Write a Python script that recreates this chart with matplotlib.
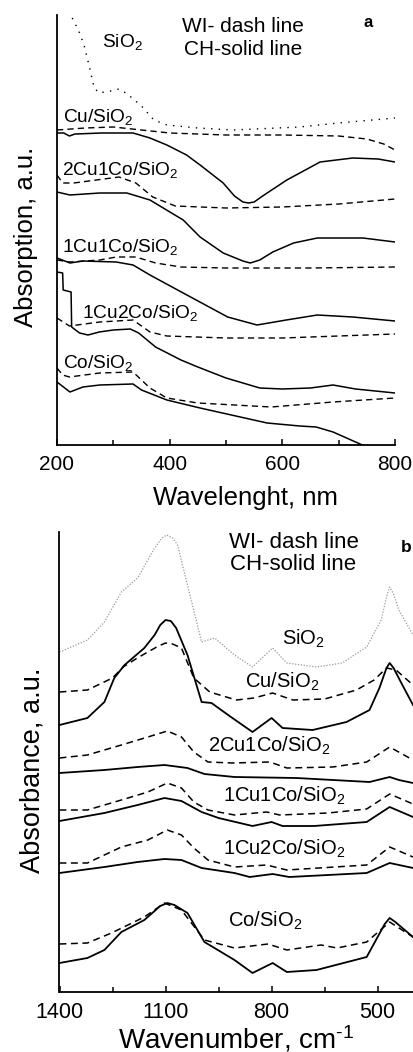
import matplotlib
matplotlib.use('Agg')
import matplotlib.pyplot as plt
from matplotlib.ticker import FixedLocator

plt.rcParams['font.family'] = ['Liberation Sans', 'DejaVu Sans']
plt.rcParams['mathtext.fontset'] = 'custom'
plt.rcParams['mathtext.rm'] = 'Liberation Sans'
plt.rcParams['mathtext.it'] = 'Liberation Sans:italic'
plt.rcParams['mathtext.bf'] = 'Liberation Sans:bold'
plt.rcParams['mathtext.default'] = 'regular'

# ---------------- Panel a : UV-vis (wavelength, nm ; absorption, a.u.) ----------------
uv_sio2_nm = [227, 238, 248, 258, 266, 275, 295, 310, 325, 350, 372, 395, 450, 512, 631, 700, 800]
uv_sio2 = [4.27, 4.15, 4.00, 3.77, 3.57, 3.52, 3.54, 3.56, 3.51, 3.39, 3.25, 3.20, 3.17, 3.15, 3.18, 3.22, 3.27]

uv_cu_wi_nm = [200, 250, 300, 350, 400, 500, 600, 700, 750, 780, 800]
uv_cu_wi = [3.15, 3.17, 3.18, 3.15, 3.12, 3.10, 3.10, 3.09, 3.06, 3.01, 2.95]
uv_cu_ch_nm = [200, 212, 222, 232, 280, 335, 365, 395, 430, 454, 495, 515, 530, 540, 550, 565, 608, 667, 725, 770, 800]
uv_cu_ch = [3.12, 3.12, 3.09, 3.11, 3.12, 3.12, 3.07, 3.00, 2.90, 2.80, 2.62, 2.49, 2.43, 2.42, 2.43, 2.49, 2.65, 2.83, 2.87, 2.86, 2.83]

uv_2cu1co_wi_nm = [200, 210, 230, 270, 310, 340, 370, 410, 500, 600, 700, 800]
uv_2cu1co_wi = [2.70, 2.62, 2.62, 2.65, 2.68, 2.62, 2.48, 2.39, 2.37, 2.38, 2.41, 2.46]
uv_2cu1co_ch_nm = [200, 223, 276, 324, 365, 424, 454, 495, 530, 543, 560, 583, 620, 662, 743, 800]
uv_2cu1co_ch = [2.53, 2.50, 2.52, 2.52, 2.45, 2.25, 2.08, 1.92, 1.84, 1.82, 1.85, 1.93, 2.02, 2.07, 2.07, 2.03]

uv_1cu1co_wi_nm = [200, 223, 276, 305, 340, 375, 420, 500, 650, 800]
uv_1cu1co_wi = [1.85, 1.83, 1.85, 1.88, 1.88, 1.82, 1.78, 1.77, 1.77, 1.78]
uv_1cu1co_ch_nm = [200, 223, 246, 305, 335, 365, 424, 503, 555, 607, 662, 725, 800]
uv_1cu1co_ch = [1.87, 1.82, 1.84, 1.83, 1.80, 1.70, 1.52, 1.28, 1.20, 1.25, 1.30, 1.28, 1.24]

uv_1cu2co_wi_nm = [200, 222, 276, 335, 365, 395, 500, 600, 700, 800]
uv_1cu2co_wi = [1.27, 1.19, 1.23, 1.25, 1.13, 1.09, 1.07, 1.07, 1.09, 1.11]
uv_1cu2co_ch_nm = [200, 210, 211, 225, 226, 240, 255, 275, 300, 330, 345, 375, 420, 450, 500, 560, 600, 650, 690, 730, 800]
uv_1cu2co_ch = [1.73, 1.72, 1.55, 1.53, 1.18, 1.12, 1.10, 1.13, 1.15, 1.16, 1.12, 0.98, 0.85, 0.78, 0.67, 0.57, 0.56, 0.57, 0.60, 0.56, 0.52]

uv_co_wi_nm = [200, 210, 222, 276, 335, 350, 365, 395, 450, 580, 690, 800]
uv_co_wi = [0.77, 0.70, 0.68, 0.72, 0.73, 0.65, 0.57, 0.47, 0.42, 0.38, 0.43, 0.47]
uv_co_ch_nm = [200, 223, 246, 276, 335, 350, 395, 454, 573, 631, 660, 690, 742, 800]
uv_co_ch = [0.63, 0.53, 0.58, 0.60, 0.61, 0.55, 0.45, 0.37, 0.22, 0.19, 0.18, 0.13, 0.00, -0.17]

uv_ticks = [200, 400, 600, 800]
uv_minor = [300, 500, 700]

# ---------------- Panel b : IR (wavenumber, cm-1 ; absorbance, a.u.) ----------------
ir_sio2_wn = [1400, 1321, 1273, 1225, 1179, 1131, 1110, 1097, 1080, 1066, 1038, 998, 961, 905, 854, 797, 757, 673, 600, 531, 490, 475, 466, 455, 440, 400]
ir_sio2 = [3.40, 3.52, 3.70, 4.00, 4.14, 4.44, 4.54, 4.57, 4.54, 4.47, 4.07, 3.50, 3.54, 3.37, 3.25, 3.44, 3.29, 3.25, 3.29, 3.45, 3.72, 3.95, 4.05, 3.98, 3.82, 3.57]

ir_cu_wi_wn = [1400, 1321, 1250, 1220, 1180, 1120, 1100, 1080, 1055, 1020, 975, 900, 850, 797, 740, 650, 560, 510, 475, 448, 400]
ir_cu_wi = [3.00, 3.02, 3.14, 3.25, 3.34, 3.46, 3.49, 3.48, 3.44, 3.14, 3.00, 2.92, 2.94, 2.99, 2.92, 2.93, 3.02, 3.12, 3.24, 3.22, 3.07]
ir_cu_ch_wn = [1400, 1321, 1273, 1245, 1216, 1160, 1131, 1115, 1100, 1085, 1070, 1038, 998, 970, 919, 854, 800, 769, 684, 588, 523, 495, 475, 466, 455, 430, 400]
ir_cu_ch = [2.67, 2.74, 2.90, 3.14, 3.27, 3.44, 3.57, 3.67, 3.72, 3.71, 3.64, 3.37, 2.90, 2.89, 2.76, 2.60, 2.74, 2.64, 2.62, 2.70, 2.82, 3.04, 3.24, 3.29, 3.24, 3.07, 2.87]

ir_2cu1co_wi_wn = [1400, 1321, 1225, 1150, 1095, 1055, 1020, 980, 910, 805, 757, 627, 531, 466, 400]
ir_2cu1co_wi = [2.34, 2.37, 2.47, 2.55, 2.61, 2.55, 2.40, 2.30, 2.29, 2.30, 2.24, 2.25, 2.30, 2.45, 2.32]
ir_2cu1co_ch_wn = [1400, 1273, 1179, 1103, 1038, 990, 905, 730, 523, 466, 440, 400]
ir_2cu1co_ch = [2.19, 2.22, 2.25, 2.27, 2.24, 2.18, 2.15, 2.14, 2.10, 2.15, 2.12, 2.09]

ir_1cu1co_wi_wn = [1400, 1321, 1225, 1150, 1095, 1055, 1020, 980, 905, 814, 777, 640, 531, 466, 400]
ir_1cu1co_wi = [1.82, 1.82, 1.92, 2.00, 2.09, 2.04, 1.90, 1.82, 1.77, 1.80, 1.77, 1.79, 1.83, 1.98, 1.88]
ir_1cu1co_ch_wn = [1400, 1273, 1179, 1103, 1055, 998, 950, 854, 800, 769, 680, 531, 466, 400]
ir_1cu1co_ch = [1.71, 1.79, 1.87, 1.94, 1.91, 1.80, 1.74, 1.66, 1.70, 1.66, 1.66, 1.70, 1.85, 1.75]

ir_1cu2co_wi_wn = [1400, 1321, 1225, 1150, 1095, 1055, 1020, 980, 905, 814, 757, 531, 466, 400]
ir_1cu2co_wi = [1.29, 1.29, 1.45, 1.52, 1.62, 1.57, 1.44, 1.32, 1.25, 1.27, 1.22, 1.27, 1.45, 1.35]
ir_1cu2co_ch_wn = [1400, 1273, 1179, 1103, 1055, 998, 905, 862, 797, 750, 531, 466, 400]
ir_1cu2co_ch = [1.19, 1.25, 1.30, 1.33, 1.32, 1.24, 1.19, 1.15, 1.18, 1.15, 1.19, 1.29, 1.24]

ir_co_wi_wn = [1400, 1321, 1253, 1160, 1103, 1055, 990, 905, 810, 757, 660, 615, 531, 466, 400]
ir_co_wi = [0.48, 0.49, 0.59, 0.75, 0.89, 0.82, 0.52, 0.44, 0.48, 0.42, 0.47, 0.44, 0.50, 0.70, 0.55]
ir_co_ch_wn = [1400, 1321, 1273, 1225, 1160, 1115, 1095, 1075, 1038, 990, 905, 854, 797, 757, 673, 531, 480, 466, 450, 400]
ir_co_ch = [0.29, 0.34, 0.42, 0.60, 0.72, 0.86, 0.89, 0.87, 0.79, 0.50, 0.32, 0.19, 0.29, 0.20, 0.22, 0.35, 0.68, 0.74, 0.70, 0.55]

ir_ticks = [1400, 1100, 800, 500]
ir_minor = [1250, 950, 650]

# ---------------- Figure ----------------
W, H = 414, 1052
fig = plt.figure(figsize=(W / 100, H / 100), dpi=100)

def ax_rect(l, t, r, b):
    return [l / W, 1 - b / H, (r - l) / W, (b - t) / H]

axa = fig.add_axes(ax_rect(57, 15, 395, 445))
axb = fig.add_axes(ax_rect(59.5, 532, 413, 992))

DASH = (0, (4.5, 3.0))

# panel a
axa.plot(uv_sio2_nm, uv_sio2, color='black', lw=1.0, ls=(0, (1, 4.5)))
for xw, yw, xc, yc in [
    (uv_cu_wi_nm, uv_cu_wi, uv_cu_ch_nm, uv_cu_ch),
    (uv_2cu1co_wi_nm, uv_2cu1co_wi, uv_2cu1co_ch_nm, uv_2cu1co_ch),
    (uv_1cu1co_wi_nm, uv_1cu1co_wi, uv_1cu1co_ch_nm, uv_1cu1co_ch),
    (uv_1cu2co_wi_nm, uv_1cu2co_wi, uv_1cu2co_ch_nm, uv_1cu2co_ch),
    (uv_co_wi_nm, uv_co_wi, uv_co_ch_nm, uv_co_ch),
]:
    axa.plot(xw, yw, color='black', lw=1.0, ls=DASH)
    axa.plot(xc, yc, color='black', lw=1.1, ls='-', solid_joinstyle='round')

axa.set_xlim(200, 800)
axa.set_ylim(0, 4.30)

# panel b
axb.plot(ir_sio2_wn, ir_sio2, color='#9a9a9a', lw=0.9, ls=(0, (1, 1.3)))
for xw, yw, xc, yc in [
    (ir_cu_wi_wn, ir_cu_wi, ir_cu_ch_wn, ir_cu_ch),
    (ir_2cu1co_wi_wn, ir_2cu1co_wi, ir_2cu1co_ch_wn, ir_2cu1co_ch),
    (ir_1cu1co_wi_wn, ir_1cu1co_wi, ir_1cu1co_ch_wn, ir_1cu1co_ch),
    (ir_1cu2co_wi_wn, ir_1cu2co_wi, ir_1cu2co_ch_wn, ir_1cu2co_ch),
    (ir_co_wi_wn, ir_co_wi, ir_co_ch_wn, ir_co_ch),
]:
    axb.plot(xw, yw, color='black', lw=1.1, ls=DASH)
    axb.plot(xc, yc, color='black', lw=1.3, ls='-', solid_joinstyle='round')

axb.set_xlim(1400, 400)
axb.set_ylim(0, 4.60)

for ax, maj, mnr, fs in [(axa, uv_ticks, uv_minor, 15), (axb, ir_ticks, ir_minor, 15.5)]:
    ax.spines['top'].set_visible(False)
    ax.spines['right'].set_visible(False)
    ax.spines['left'].set_linewidth(1.3)
    ax.spines['bottom'].set_linewidth(1.3)
    ax.set_yticks([])
    ax.xaxis.set_major_locator(FixedLocator(maj))
    ax.xaxis.set_minor_locator(FixedLocator(mnr))
    ax.tick_params(axis='x', which='major', direction='in', length=4, width=1.1,
                   labelsize=fs, pad=7)
    ax.tick_params(axis='x', which='minor', direction='in', length=3.5, width=1.1)
    ax.set_xticklabels([str(v) for v in maj])
    ax.patch.set_alpha(0)

# axis titles
fig.text(246 / W, 1 - 505 / H, 'Wavelenght, nm', ha='center', va='baseline', fontsize=18.5)
fig.text(26 / W, 1 - 237 / H, 'Absorption, a.u.', ha='center', va='center', rotation=90, fontsize=18.5)
fig.text(236 / W, 1 - 1048 / H, r'Wavenumber, cm$^{\text{-1}}$', ha='center', va='baseline', fontsize=20)
fig.text(33 / W, 1 - 770 / H, 'Absorbance, a.u.', ha='center', va='center', rotation=90, fontsize=19.5)

# panel a annotations
fa = 13.8
axa.text(0.550, 0.960, 'WI- dash line', transform=axa.transAxes, ha='center', va='baseline', fontsize=15)
axa.text(0.550, 0.907, 'CH-solid line', transform=axa.transAxes, ha='center', va='baseline', fontsize=15)
axa.text(0.920, 0.972, 'a', transform=axa.transAxes, ha='center', va='baseline', fontsize=12, fontweight='bold')
axa.text(0.133, 0.926, 'SiO$_2$', transform=axa.transAxes, ha='left', va='baseline', fontsize=fa)
axa.text(0.018, 0.751, 'Cu/SiO$_2$', transform=axa.transAxes, ha='left', va='baseline', fontsize=fa)
axa.text(0.015, 0.628, '2Cu1Co/SiO$_2$', transform=axa.transAxes, ha='left', va='baseline', fontsize=fa)
axa.text(0.015, 0.449, '1Cu1Co/SiO$_2$', transform=axa.transAxes, ha='left', va='baseline', fontsize=fa)
axa.text(0.074, 0.295, '1Cu2Co/SiO$_2$', transform=axa.transAxes, ha='left', va='baseline', fontsize=fa)
axa.text(0.018, 0.179, 'Co/SiO$_2$', transform=axa.transAxes, ha='left', va='baseline', fontsize=fa)

# panel b annotations
fb = 14.5
axb.text(0.662, 0.965, 'WI- dash line', transform=axb.transAxes, ha='center', va='baseline', fontsize=16)
axb.text(0.662, 0.917, 'CH-solid line', transform=axb.transAxes, ha='center', va='baseline', fontsize=16)
axb.text(0.980, 0.957, 'b', transform=axb.transAxes, ha='center', va='baseline', fontsize=12.5, fontweight='bold')
axb.text(0.629, 0.754, 'SiO$_2$', transform=axb.transAxes, ha='left', va='baseline', fontsize=fb)
axb.text(0.525, 0.661, 'Cu/SiO$_2$', transform=axb.transAxes, ha='left', va='baseline', fontsize=fb)
axb.text(0.420, 0.522, '2Cu1Co/SiO$_2$', transform=axb.transAxes, ha='left', va='baseline', fontsize=fb)
axb.text(0.463, 0.413, '1Cu1Co/SiO$_2$', transform=axb.transAxes, ha='left', va='baseline', fontsize=fb)
axb.text(0.463, 0.298, '1Cu2Co/SiO$_2$', transform=axb.transAxes, ha='left', va='baseline', fontsize=fb)
axb.text(0.477, 0.141, 'Co/SiO$_2$', transform=axb.transAxes, ha='left', va='baseline', fontsize=fb)

fig.savefig('out.png', dpi=100)
